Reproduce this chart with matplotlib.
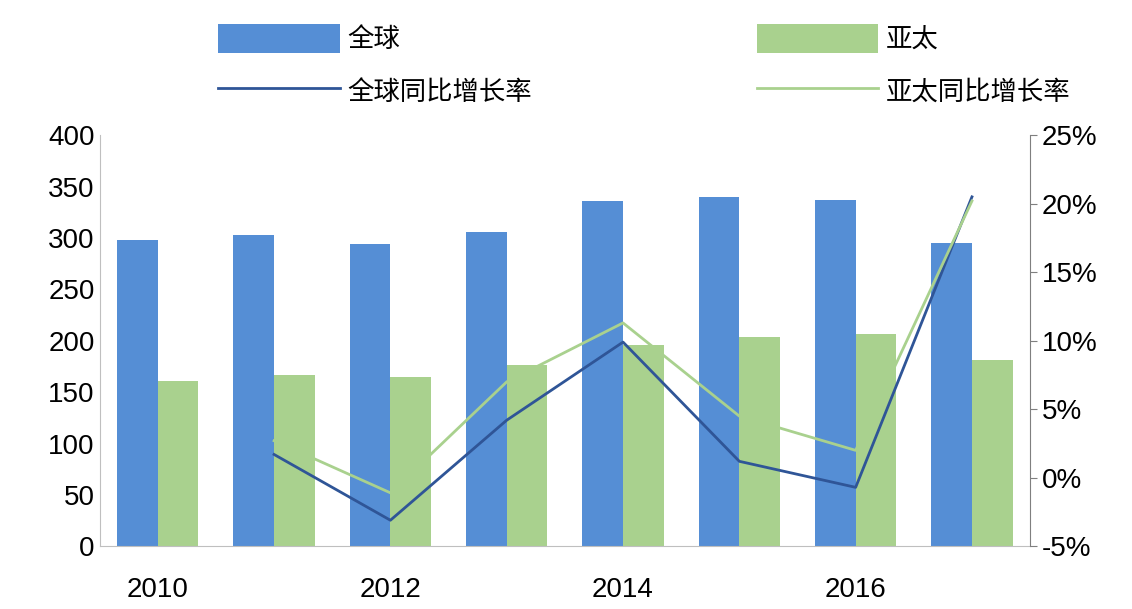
import numpy as np
import matplotlib.pyplot as plt

plt.rcParams['font.family'] = ['Liberation Sans', 'Noto Sans CJK SC', 'DejaVu Sans']

years = [2010, 2011, 2012, 2013, 2014, 2015, 2016, 2017]
global_vals = [298, 303, 294, 306, 336, 340, 337, 295]
apac_vals = [161, 167, 165, 176, 196, 204, 207, 181]
global_growth = [None, 1.7, -3.1, 4.2, 9.9, 1.2, -0.7, 20.5]
apac_growth = [None, 2.7, -1.1, 7.0, 11.3, 4.5, 2.0, 20.2]

fig = plt.figure(figsize=(11.32, 6.09), dpi=100)
ax = fig.add_axes([0.088, 0.103, 0.822, 0.675])
x = np.arange(len(years))
w = 0.35
ax.bar(x - w / 2, global_vals, w, color='#558ed5', label='全球')
ax.bar(x + w / 2, apac_vals, w, color='#a9d18e', label='亚太')
ax.set_ylim(0, 400)
ax.set_yticks(range(0, 401, 50))
ax.set_xlim(-0.5, len(years) - 0.5)
ax.set_xticks(x[::2])
ax.set_xticklabels([str(y) for y in years[::2]])
ax.tick_params(labelsize=20, length=0)
ax.tick_params(axis='x', pad=22)
for s in ['top', 'right']:
    ax.spines[s].set_visible(False)
ax.spines['left'].set_color('#bfbfbf')
ax.spines['bottom'].set_color('#bfbfbf')

ax2 = ax.twinx()
ax2.plot(x[1:], global_growth[1:], color='#2f5597', lw=2, label='全球同比增长率')
ax2.plot(x[1:], apac_growth[1:], color='#a9d18e', lw=2, label='亚太同比增长率')
ax2.set_ylim(-5, 25)
ax2.set_yticks(range(-5, 26, 5))
ax2.set_yticklabels(['%d%%' % v for v in range(-5, 26, 5)])
ax2.tick_params(labelsize=20, length=5, color='#7f7f7f')
for s in ['top', 'left', 'bottom']:
    ax2.spines[s].set_visible(False)
ax2.spines['right'].set_color('#7f7f7f')

h1, l1 = ax.get_legend_handles_labels()
h2, l2 = ax2.get_legend_handles_labels()
handles = [h1[0], h2[0], h1[1], h2[1]]
labels = [l1[0], l2[0], l1[1], l2[1]]
fig.legend(handles, labels, ncol=2, loc='upper left', bbox_to_anchor=(0.172, 1.0),
           frameon=False, fontsize=19, columnspacing=8.5, handlelength=4.6,
           handleheight=1.3, labelspacing=0.9, handletextpad=0.3)
fig.savefig('out.png')
